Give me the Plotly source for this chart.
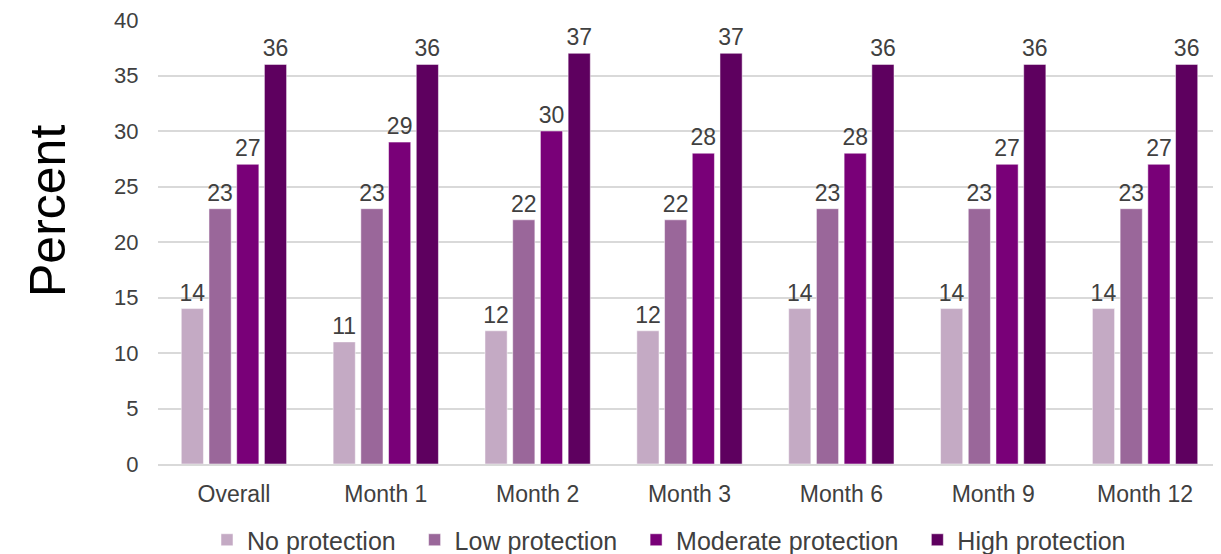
import plotly.graph_objects as go

categories = ["Overall", "Month 1", "Month 2", "Month 3", "Month 6", "Month 9", "Month 12"]
no_protection = [14, 11, 12, 12, 14, 14, 14]
low_protection = [23, 23, 22, 22, 23, 23, 23]
moderate_protection = [27, 29, 30, 28, 28, 27, 27]
high_protection = [36, 36, 37, 37, 36, 36, 36]

series = [
    ("No protection", no_protection, "#C4AAC4"),
    ("Low protection", low_protection, "#9A679A"),
    ("Moderate protection", moderate_protection, "#790078"),
    ("High protection", high_protection, "#5E005F"),
]

# The page body has an 8px margin, so the figure is drawn 8px in from the window edges.
OFF = 8
W, H = 1221 - OFF, 554 - OFF
L, T, R, B = 158 - OFF, 20 - OFF, 0, H - (464 - OFF)
PW = W - L - R
PH = H - T - B
PAD = "\u00a0\u00a0"

fig = go.Figure()
for name, vals, color in series:
    fig.add_trace(go.Bar(
        name=name + PAD, x=categories, y=vals,
        marker=dict(color=color, line=dict(color="rgba(255,255,255,0.5)", width=1)),
        text=[str(v) for v in vals], textposition="outside", constraintext="none",
        textfont=dict(family="Liberation Sans, Arial", size=23, color="#404040"),
        cliponaxis=False,
    ))

fig.update_layout(
    width=W, height=H,
    margin=dict(l=L, r=R, t=T, b=B),
    plot_bgcolor="white", paper_bgcolor="white",
    barmode="group", bargap=0.27, bargroupgap=0.2,
    font=dict(family="Liberation Sans, Arial", color="#595959"),
    showlegend=True,
    legend=dict(orientation="h", xref="container", yref="container",
                x=(207 - OFF) / W, xanchor="left", y=1 - (540 - OFF) / H, yanchor="middle",
                font=dict(size=25, color="#404040"), traceorder="normal"),
)
fig.update_yaxes(range=[0, 40], tickvals=[0, 5, 10, 15, 20, 25, 30, 35, 40],
                 showgrid=True, gridcolor="#D9D9D9", gridwidth=1.5,
                 zeroline=False, showline=False, tickfont=dict(size=22, color="#404040"),
                 ticks="outside", ticklen=14, tickcolor="rgba(0,0,0,0)", automargin=False,
                 ticklabeloverflow="allow")
fig.update_xaxes(showline=True, linecolor="#D9D9D9", linewidth=1.5,
                 tickfont=dict(size=23, color="#404040"), automargin=False,
                 ticks="outside", ticklen=9, tickcolor="rgba(0,0,0,0)")
fig.add_annotation(text="Percent", textangle=-90, xref="paper", yref="paper",
                   x=(48 - OFF - L) / PW, y=(464 - 211) / PH, xanchor="center", yanchor="middle",
                   showarrow=False, font=dict(family="Liberation Sans, Arial", size=50, color="#000000"))

fig.write_html("out.html")
